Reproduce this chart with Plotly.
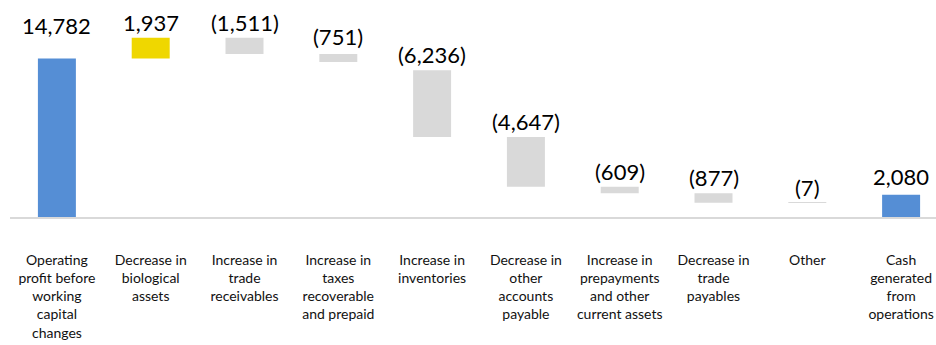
import plotly.graph_objects as go

categories = [
    "Operating<br>profit before<br>working<br>capital<br>changes",
    "Decrease in<br>biological<br>assets",
    "Increase in<br>trade<br>receivables",
    "Increase in<br>taxes<br>recoverable<br>and prepaid",
    "Increase in<br>inventories",
    "Decrease in<br>other<br>accounts<br>payable",
    "Increase in<br>prepayments<br>and other<br>current assets",
    "Decrease in<br>trade<br>payables",
    "Other",
    "Cash<br>generated<br>from<br>operations",
]
values = [14782, 1937, -1511, -751, -6236, -4647, -609, -877, -7, 2080]
# invisible "base" series of the stacked-bar waterfall
base = [0, 14782, 15208, 14457, 7470, 2823, 2214, 1337, 1330, 0]
kinds = ["total", "up", "down", "down", "down", "down", "down", "down", "down", "total"]

colors = {"total": "#558ED5", "up": "#EFD700", "down": "#D9D9D9"}
label_yshift = [18, 0, 0, 2, 0, 0, 0, 0, 0, 3]


def fmt(v):
    return f"({abs(v):,})" if v < 0 else f"{v:,}"


x = list(range(len(categories)))
heights = [abs(v) for v in values]

fig = go.Figure()
fig.add_trace(go.Bar(
    x=x, y=heights, base=base,
    marker=dict(color=[colors[k] for k in kinds], line=dict(width=0)),
    width=0.405, hoverinfo="skip", showlegend=False,
))

for i, (b, h, v) in enumerate(zip(base, heights, values)):
    fig.add_annotation(
        x=i, y=b + h, text=fmt(v), showarrow=False,
        yanchor="bottom", xanchor="center", yshift=label_yshift[i],
        font=dict(family="Lato", size=22, color="#000000"),
    )

fig.update_layout(
    width=936, height=345,
    margin=dict(l=10, r=0, t=0, b=128),
    paper_bgcolor="white", plot_bgcolor="white",
    font=dict(family="Lato", color="#111111"),
    xaxis=dict(
        tickmode="array", tickvals=x, ticktext=categories,
        range=[-0.5, 9.372], showgrid=False, zeroline=False,
        showline=True, linecolor="#D9D9D9", linewidth=2,
        ticks="", tickfont=dict(family="Lato", size=14, color="#111111"),
        ticklabelstandoff=29, tickangle=0,
    ),
    yaxis=dict(range=[0, 20250], visible=False, showgrid=False, zeroline=False),
)

fig.write_html("out.html")
